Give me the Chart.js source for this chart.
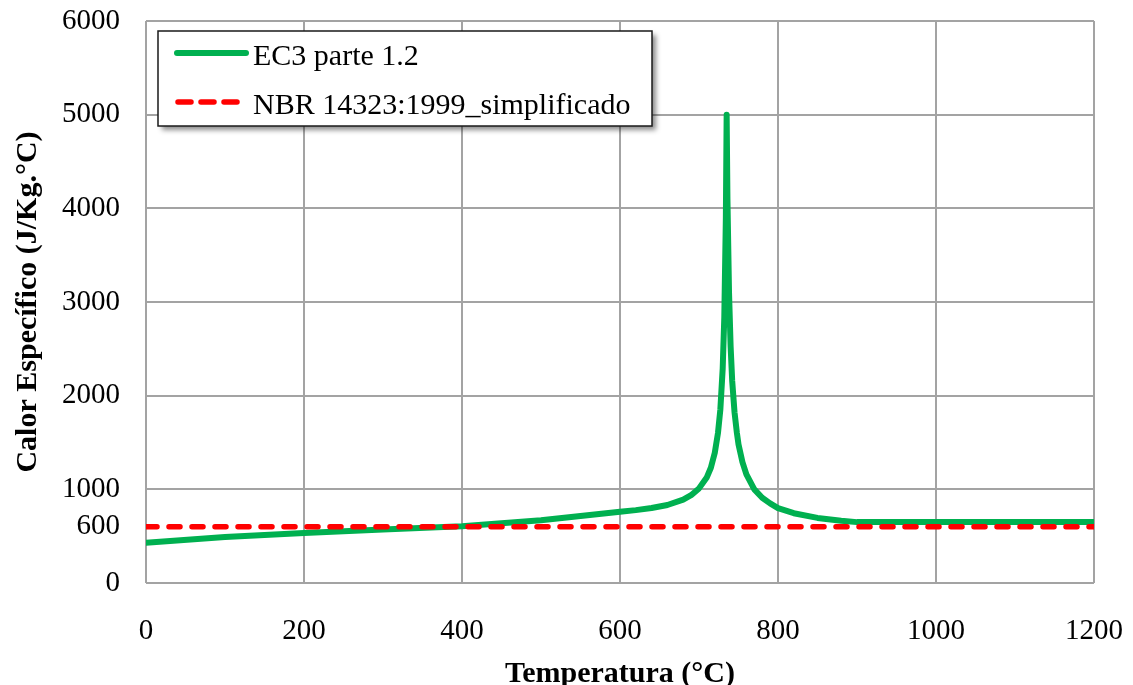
<!DOCTYPE html>
<html>
<head>
<meta charset="utf-8">
<script src="https://cdn.jsdelivr.net/npm/chart.js@4.4.1/dist/chart.umd.min.js"></script>
<style>
  html, body { margin: 0; padding: 0; background: #ffffff; }
  #wrap { position: relative; width: 1133px; height: 685px; }
</style>
</head>
<body>
<div id="wrap"><canvas id="c" width="1133" height="685"></canvas></div>
<script>
// ---- data ----
const ec3Temps = [0, 100, 200, 300, 400, 500, 600, 620, 640, 660, 680, 690, 700, 710, 715, 720, 724, 727, 730, 732, 734, 735, 736, 738, 740, 742, 745, 748, 750, 755, 760, 770, 780, 790, 800, 820, 850, 880, 900, 1000, 1200];
const ec3Values = [430, 490, 535, 570, 605, 670, 760, 778, 800, 833, 890, 937, 1010, 1130, 1230, 1390, 1600, 1850, 2290, 2830, 3900, 5000, 4100, 3100, 2530, 2160, 1820, 1600, 1480, 1290, 1160, 1000, 910, 850, 800, 745, 695, 665, 650, 650, 650];
const nbrTemps = [0, 1200];
const nbrValues = [600, 600];
const yTickValues = [0, 600, 1000, 2000, 3000, 4000, 5000, 6000];
const xTickValues = [0, 200, 400, 600, 800, 1000, 1200];
const seriesLabels = ['EC3 parte 1.2', 'NBR 14323:1999_simplificado'];
const xTitle = 'Temperatura (°C)';
const yTitle = 'Calor Específico (J/Kg.°C)';

const GREEN = '#00b050';
const RED = '#ff0000';
const GRID = '#a3a3a3';
const FONT = "'Liberation Serif', 'Times New Roman', serif";

const legendPlugin = {
  id: 'boxLegend',
  afterDraw(chart) {
    const ctx = chart.ctx;
    const a = chart.chartArea;
    const x0 = a.left + 12, y0 = a.top + 10, w = 494, h = 95;
    ctx.save();
    ctx.shadowColor = 'rgba(0,0,0,0.45)';
    ctx.shadowBlur = 5;
    ctx.shadowOffsetX = 4;
    ctx.shadowOffsetY = 4;
    ctx.fillStyle = '#ffffff';
    ctx.fillRect(x0, y0, w, h);
    ctx.restore();
    ctx.save();
    ctx.strokeStyle = '#1a1a1a';
    ctx.lineWidth = 1.5;
    ctx.strokeRect(x0, y0, w, h);
    const ds = chart.data.datasets;
    const rows = [y0 + 22, y0 + 71];
    ds.forEach((d, i) => {
      ctx.beginPath();
      ctx.strokeStyle = d.borderColor;
      ctx.lineWidth = d.borderWidth;
      ctx.lineCap = 'round';
      ctx.setLineDash(i === 0 ? [] : [13, 10]);
      if (i === 0) {
        ctx.moveTo(x0 + 19, rows[i]);
        ctx.lineTo(x0 + 88, rows[i]);
      } else {
        ctx.moveTo(x0 + 20, rows[i]);
        ctx.lineTo(x0 + 80, rows[i]);
      }
      ctx.stroke();
      ctx.setLineDash([]);
      ctx.fillStyle = '#000000';
      ctx.font = '30px ' + FONT;
      ctx.textBaseline = 'middle';
      ctx.textAlign = 'left';
      ctx.fillText(d.label, x0 + 95, rows[i] + 4);
    });
    ctx.restore();
  }
};

const ctx = document.getElementById('c').getContext('2d');
new Chart(ctx, {
  type: 'line',
  data: {
    datasets: [
      {
        label: seriesLabels[0],
        data: ec3Temps.map((t, i) => ({ x: t, y: ec3Values[i] })),
        borderColor: GREEN,
        backgroundColor: GREEN,
        borderWidth: 6,
        pointRadius: 0,
        tension: 0,
        borderJoinStyle: 'round',
        borderCapStyle: 'round',
        order: 1
      },
      {
        label: seriesLabels[1],
        data: nbrTemps.map((t, i) => ({ x: t, y: nbrValues[i] })),
        borderColor: RED,
        backgroundColor: RED,
        borderWidth: 5.5,
        borderDash: [11, 12],
        borderCapStyle: 'round',
        pointRadius: 0,
        tension: 0,
        order: 0
      }
    ]
  },
  options: {
    responsive: false,
    animation: false,
    devicePixelRatio: 1,
    layout: { padding: { left: 0, right: 39, top: 21, bottom: 0 } },
    plugins: {
      legend: { display: false },
      tooltip: { enabled: false }
    },
    scales: {
      x: {
        type: 'linear',
        min: 0,
        max: 1200,
        afterBuildTicks: (s) => { s.ticks = xTickValues.map(v => ({ value: v })); },
        afterFit: (s) => { s.height = 102; s.paddingLeft = 0; s.paddingRight = 0; },
        grid: { color: GRID, lineWidth: 2, drawTicks: false },
        border: { display: false },
        ticks: {
          color: '#000000',
          padding: 31,
          maxRotation: 0,
          callback: (v) => String(v),
          font: { family: FONT, size: 29 }
        },
        title: {
          display: true,
          text: xTitle,
          color: '#000000',
          padding: 0,
          font: { family: FONT, size: 30, weight: 'bold', lineHeight: 0.7 }
        }
      },
      y: {
        type: 'linear',
        min: 0,
        max: 6000,
        afterBuildTicks: (s) => { s.ticks = yTickValues.map(v => ({ value: v })); },
        afterFit: (s) => { s.width = 146; s.paddingTop = 0; s.paddingBottom = 0; },
        grid: {
          color: (c) => (c.tick && c.tick.value === 600 ? 'rgba(0,0,0,0)' : GRID),
          lineWidth: 2,
          drawTicks: false
        },
        border: { display: false },
        ticks: {
          color: '#000000',
          padding: 26,
          callback: (v) => String(v),
          font: { family: FONT, size: 29 }
        },
        title: {
          display: true,
          text: yTitle,
          color: '#000000',
          padding: { top: 10, bottom: 0 },
          font: { family: FONT, size: 30, weight: 'bold', lineHeight: 1.2 }
        }
      }
    }
  },
  plugins: [legendPlugin]
});
</script>
</body>
</html>
